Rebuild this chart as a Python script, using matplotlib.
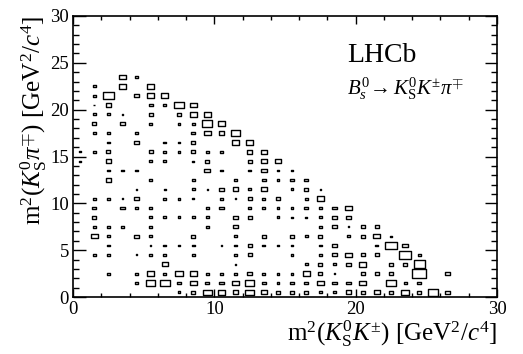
import matplotlib
matplotlib.use("Agg")
import matplotlib.pyplot as plt
from matplotlib.patches import Rectangle
from matplotlib.collections import PatchCollection
from matplotlib.ticker import MultipleLocator

# ---- data: 2D histogram bins (1 GeV^2 x 1 GeV^2), bin centres and contents ----
bin_x = [
    3.5, 4.5,
    1.5, 3.5, 5.5,
    1.5, 2.5, 4.5, 5.5, 6.5,
    1.5, 2.5, 5.5, 6.5, 7.5, 8.5,
    1.5, 2.5, 3.5, 5.5, 7.5, 8.5, 9.5,
    1.5, 3.5, 5.5, 7.5, 8.5, 9.5, 10.5,
    1.5, 2.5, 4.5, 8.5, 9.5, 10.5, 11.5,
    2.5, 4.5, 6.5, 7.5, 8.5, 11.5, 12.5,
    0.5, 1.5, 2.5, 5.5, 6.5, 7.5, 8.5, 9.5, 10.5, 12.5, 13.5,
    0.5, 2.5, 5.5, 6.5, 8.5, 9.5, 12.5, 13.5, 14.5,
    2.5, 3.5, 4.5, 9.5, 10.5, 12.5, 13.5, 14.5, 15.5,
    2.5, 5.5, 8.5, 11.5, 13.5, 14.5, 15.5, 16.5,
    4.5, 6.5, 8.5, 9.5, 10.5, 11.5, 12.5, 13.5, 15.5, 16.5, 17.5,
    1.5, 2.5, 3.5, 4.5, 6.5, 7.5, 8.5, 10.5, 11.5, 12.5, 13.5, 14.5, 16.5, 17.5,
    1.5, 3.5, 4.5, 5.5, 9.5, 10.5, 12.5, 13.5, 14.5, 15.5, 16.5, 17.5, 18.5, 19.5,
    1.5, 5.5, 6.5, 7.5, 8.5, 9.5, 11.5, 12.5, 14.5, 15.5, 16.5, 17.5, 18.5, 19.5,
    1.5, 2.5, 3.5, 5.5, 9.5, 11.5, 17.5, 18.5, 19.5, 20.5, 21.5,
    1.5, 2.5, 4.5, 5.5, 8.5, 11.5, 13.5, 15.5, 16.5, 17.5, 19.5, 20.5, 21.5, 22.5,
    2.5, 5.5, 6.5, 7.5, 8.5, 10.5, 11.5, 12.5, 13.5, 14.5, 15.5, 17.5, 18.5, 21.5, 22.5, 23.5,
    1.5, 2.5, 4.5, 5.5, 6.5, 8.5, 11.5, 12.5, 15.5, 17.5, 18.5, 19.5, 20.5, 21.5, 23.5, 24.5,
    6.5, 11.5, 16.5, 17.5, 18.5, 19.5, 20.5, 22.5, 23.5, 24.5,
    2.5, 4.5, 5.5, 6.5, 7.5, 8.5, 9.5, 10.5, 11.5, 12.5, 13.5, 14.5, 15.5, 16.5, 17.5, 18.5, 20.5, 21.5, 22.5, 24.5, 26.5,
    4.5, 5.5, 6.5, 7.5, 8.5, 9.5, 10.5, 11.5, 12.5, 13.5, 14.5, 15.5, 16.5, 17.5, 18.5, 19.5, 20.5, 22.5, 23.5, 24.5,
    7.5, 8.5, 9.5, 10.5, 11.5, 12.5, 13.5, 14.5, 15.5, 16.5, 17.5, 18.5, 19.5, 20.5, 21.5, 22.5, 23.5, 24.5, 25.5, 26.5,
]
bin_y = (
    [23.5] * 2 + [22.5] * 3 + [21.5] * 5 + [20.5] * 6 + [19.5] * 7 + [18.5] * 7
    + [17.5] * 7 + [16.5] * 7 + [15.5] * 11 + [14.5] * 9 + [13.5] * 9 + [12.5] * 8
    + [11.5] * 11 + [10.5] * 14 + [9.5] * 14 + [8.5] * 14 + [7.5] * 11 + [6.5] * 14
    + [5.5] * 16 + [4.5] * 16 + [3.5] * 10 + [2.5] * 21 + [1.5] * 20 + [0.5] * 20
)
counts = [
    5, 2,
    2, 5, 5,
    2, 8, 3, 5, 5,
    1, 4, 3, 2, 7, 5,
    2, 2, 1, 3, 3, 5, 5,
    3, 3, 2, 2, 2, 7, 5,
    2, 2, 2, 3, 5, 4, 7,
    2, 3, 2, 2, 3, 5, 5,
    1, 2, 3, 3, 2, 2, 3, 2, 2, 4, 4,
    1, 4, 2, 2, 1, 3, 3, 4, 4,
    2, 2, 2, 4, 2, 2, 4, 2, 2,
    4, 2, 2, 2, 3, 2, 3, 3,
    1, 1, 2, 1, 3, 4, 2, 4, 2, 3, 1,
    2, 2, 1, 3, 2, 2, 1, 2, 1, 3, 2, 3, 2, 5,
    3, 3, 2, 2, 2, 3, 2, 2, 2, 2, 3, 2, 3, 5,
    3, 2, 2, 2, 2, 2, 3, 3, 2, 1, 1, 2, 3, 3,
    2, 2, 2, 2, 2, 3, 2, 3, 1, 3, 3,
    5, 2, 3, 2, 3, 2, 3, 3, 2, 3, 2, 3, 5, 1,
    2, 1, 2, 2, 2, 1, 2, 3, 2, 2, 2, 2, 4, 2, 8, 4,
    2, 2, 1, 2, 2, 2, 2, 3, 2, 2, 3, 5, 3, 3, 8, 2,
    4, 1, 2, 3, 2, 3, 5, 3, 3, 8,
    2, 2, 5, 2, 5, 5, 2, 2, 2, 4, 2, 2, 2, 5, 3, 1, 3, 3, 3, 10, 3,
    2, 6, 7, 3, 5, 3, 3, 5, 6, 3, 2, 3, 3, 5, 3, 3, 5, 7, 2, 3,
    2, 3, 6, 5, 4, 6, 4, 3, 3, 3, 2, 2, 4, 3, 4, 3, 6, 3, 7, 3,
]
bin_width = 1.0
x_ticks = [0, 10, 20, 30]
y_ticks = [0, 5, 10, 15, 20, 25, 30]

# ---- style ----
plt.rcParams["font.family"] = ["Liberation Serif", "DejaVu Serif"]
plt.rcParams["mathtext.fontset"] = "custom"
plt.rcParams["mathtext.rm"] = "Liberation Serif"
plt.rcParams["mathtext.it"] = "Liberation Serif:italic"
plt.rcParams["mathtext.bf"] = "Liberation Serif:bold"

W, H = 523, 354
fig = plt.figure(figsize=(W / 100, H / 100), dpi=100)
ax = fig.add_axes([73 / W, 57 / H, 424 / W, 281 / H])

cmax = max(counts)
patches = []
for x, y, c in zip(bin_x, bin_y, counts):
    f = c / cmax
    w = bin_width * f
    patches.append(Rectangle((x - w / 2, y - w / 2), w, w))
pc = PatchCollection(patches, facecolor="none", edgecolor="black", linewidth=1.0)
ax.add_collection(pc)

ax.set_xlim(0, 30)
ax.set_ylim(0, 30)
ax.set_xticks(x_ticks)
ax.set_yticks(y_ticks)
ax.xaxis.set_minor_locator(MultipleLocator(2))
ax.yaxis.set_minor_locator(MultipleLocator(1))
ax.tick_params(which="both", direction="in", top=True, right=True, width=1.0,
               labelsize=13.5, colors="black")
ax.tick_params(axis="x", which="major", length=6, pad=3)
ax.tick_params(axis="x", which="minor", length=3)
ax.tick_params(axis="y", which="major", length=9, pad=3)
ax.tick_params(axis="y", which="minor", length=4.5)
for s in ax.spines.values():
    s.set_linewidth(1.2)

ax.set_xlabel(r"m$^{2}$($K^{0}_{\rm S}K^{\pm}$) [GeV$^{2}$/$c^{4}$]", fontsize=18,
              ha="right", x=1.0, labelpad=0)
ax.set_ylabel(r"m$^{2}$($K^{0}_{\rm S}\pi^{\mp}$) [GeV$^{2}$/$c^{4}$]", fontsize=18,
              ha="right", y=1.0, labelpad=1)

fig.text(347 / W, 1 - 56 / H, "LHCb", fontsize=20, ha="left", va="center")
fig.text(347 / W, 1 - 89 / H, r"$B^{0}_{s}\!\rightarrow K^{0}_{\rm S}K^{\pm}\pi^{\mp}$",
         fontsize=15, ha="left", va="center")

fig.savefig("out.png", dpi=100)
